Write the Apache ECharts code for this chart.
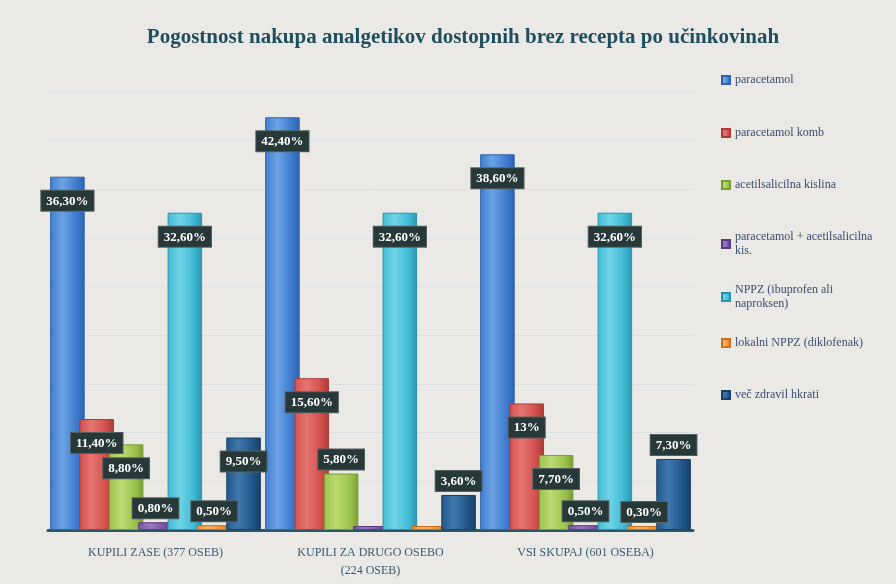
<!DOCTYPE html>
<html>
<head>
<meta charset="utf-8">
<script src="https://cdn.jsdelivr.net/npm/echarts@6/dist/echarts.min.js"></script>
<style>
html,body{margin:0;padding:0;background:#eae9e5;}
#main{width:896px;height:584px;}
</style>
</head>
<body>
<div id="main"></div>
<script>
var categories = ['KUPILI ZASE (377 OSEB)', 'KUPILI ZA DRUGO OSEBO\n(224 OSEB)', 'VSI SKUPAJ (601 OSEBA)'];
var seriesNames = ['paracetamol', 'paracetamol komb', 'acetilsalicilna kislina', 'paracetamol + acetilsalicilna kis.', 'NPPZ (ibuprofen ali naproksen)', 'lokalni NPPZ (diklofenak)', 'več zdravil hkrati'];
var paracetamol = [36.3, 42.4, 38.6];
var paracetamolKomb = [11.4, 15.6, 13];
var acetilsalicilna = [8.8, 5.8, 7.7];
var paraAcetil = [0.8, 0, 0.5];
var nppz = [32.6, 32.6, 32.6];
var lokalniNppz = [0.5, 0, 0.3];
var vecZdravil = [9.5, 3.6, 7.3];
var allValues = [paracetamol, paracetamolKomb, acetilsalicilna, paraAcetil, nppz, lokalniNppz, vecZdravil];

var colors = [
  ['#6ea3e4', '#3f7cd0', '#2d62ad'],
  ['#e57572', '#d4504c', '#a93b38'],
  ['#bbdb74', '#9cc44c', '#7a9c35'],
  ['#9a78c2', '#7a52a3', '#5c3c80'],
  ['#70d3e6', '#40bcd6', '#2a93ab'],
  ['#fbb266', '#f2902a', '#c8701a'],
  ['#3f78ad', '#23578a', '#163f66']
];

function fmt(v) {
  if (Math.round(v) === v) return v + '%';
  return v.toFixed(2).replace('.', ',') + '%';
}

var chart = echarts.init(document.getElementById('main'), null, {renderer: 'canvas'});

var series = allValues.map(function (arr, i) {
  return {
    name: seriesNames[i],
    type: 'bar',
    barGap: '-15%',
    barCategoryGap: '2%',
    barMinHeight: 4,
    itemStyle: {
      color: new echarts.graphic.LinearGradient(0, 0, 1, 0, [
        {offset: 0, color: colors[i][1]},
        {offset: 0.35, color: colors[i][0]},
        {offset: 0.75, color: colors[i][1]},
        {offset: 1, color: colors[i][2]}
      ]),
      borderColor: colors[i][2],
      borderWidth: 1
    },
    data: arr.map(function (v) {
      return {
        value: v,
        label: {
          show: v > 0,
          position: v >= 7.5 ? 'insideTop' : 'top',
          distance: v >= 7.5 ? 14 : 4
        }
      };
    }),
    label: {
      formatter: function (p) { return fmt(p.value); },
      color: '#ffffff',
      fontFamily: 'Liberation Serif',
      fontWeight: 'bold',
      fontSize: 13,
      backgroundColor: '#263838',
      padding: [4, 5, 3, 5],
      borderColor: '#556060',
      borderWidth: 1
    }
  };
});

var legendTops = [68, 121, 173, 225, 278, 331, 383];
var legendWidths = [165, 165, 165, 150, 135, 165, 165];
var legends = seriesNames.map(function (n, i) {
  return {
    data: [n],
    orient: 'vertical',
    left: 716,
    top: legendTops[i],
    itemWidth: 8,
    itemHeight: 8,
    icon: 'rect',
    itemGap: 0,
    selectedMode: false,
    textStyle: {
      fontFamily: 'Liberation Serif',
      fontSize: 12,
      color: '#3b4d6e',
      width: legendWidths[i],
      overflow: 'break',
      lineHeight: 14
    }
  };
});

chart.setOption({
  backgroundColor: '#eae9e5',
  color: colors.map(function (c) { return c[1]; }),
  title: {
    text: 'Pogostnost nakupa analgetikov dostopnih brez recepta po učinkovinah',
    left: 458,
    textAlign: 'center',
    top: 22,
    textStyle: {
      fontFamily: 'Liberation Serif',
      fontWeight: 'bold',
      fontSize: 21,
      color: '#1f4e5f'
    }
  },
  legend: legends,
  grid: {left: 48, right: 203, top: 92, bottom: 54},
  xAxis: {
    type: 'category',
    data: categories,
    axisLine: {lineStyle: {color: '#2a5868', width: 3}},
    axisTick: {show: false},
    axisLabel: {
      fontFamily: 'Liberation Serif',
      fontSize: 12,
      color: '#3a5a70',
      margin: 14,
      lineHeight: 18
    }
  },
  yAxis: {
    type: 'value',
    min: 0,
    max: 45,
    interval: 5,
    axisLabel: {show: false},
    axisLine: {show: false},
    axisTick: {show: false},
    splitLine: {lineStyle: {color: '#dadfe1', width: 1}}
  },
  series: series
});
</script>
</body>
</html>
